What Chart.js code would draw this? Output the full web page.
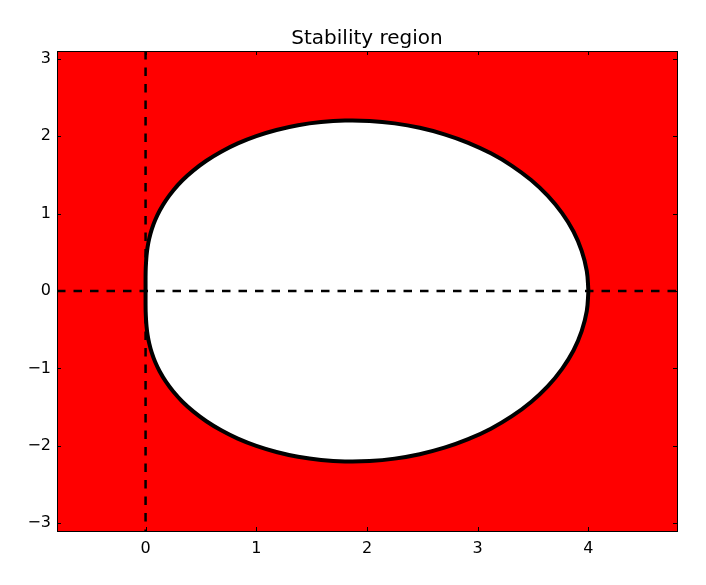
<!DOCTYPE html>
<html>
<head>
<meta charset="utf-8">
<script src="https://cdn.jsdelivr.net/npm/chart.js@4.4.1/dist/chart.umd.min.js"></script>
<style>
  html, body { margin: 0; padding: 0; background: #fff; }
  #wrap { width: 706px; height: 585px; }
</style>
</head>
<body>
<div id="wrap"><canvas id="stability" width="706" height="585"></canvas></div>
<script>
// Boundary of the stability region (upper and lower halves)
const boundaryX = [0, 0, 0, 0.001, 0.004, 0.009, 0.018, 0.033, 0.055, 0.086, 0.128, 0.182,
    0.25, 0.333, 0.433, 0.549, 0.683, 0.833, 1.0, 1.182, 1.377, 1.585, 1.801, 2.024,
    2.25, 2.476, 2.699, 2.914, 3.119, 3.309, 3.482, 3.634, 3.762, 3.865, 3.939, 3.985, 4.0];
const upperY = [0, 0.087, 0.176, 0.268, 0.363, 0.462, 0.567, 0.677, 0.793, 0.914, 1.04, 1.168,
    1.299, 1.43, 1.558, 1.682, 1.799, 1.906, 2.0, 2.079, 2.141, 2.182, 2.201, 2.196,
    2.165, 2.108, 2.024, 1.914, 1.778, 1.617, 1.433, 1.228, 1.005, 0.768, 0.518, 0.261, 0];
const lowerY = [0, -0.087, -0.176, -0.268, -0.363, -0.462, -0.567, -0.677, -0.793, -0.914, -1.04, -1.168,
    -1.299, -1.43, -1.558, -1.682, -1.799, -1.906, -2.0, -2.079, -2.141, -2.182, -2.201, -2.196,
    -2.165, -2.108, -2.024, -1.914, -1.778, -1.617, -1.433, -1.228, -1.005, -0.768, -0.518, -0.261, 0];

const xRange = [-0.8, 4.8];
const yRange = [-3.1, 3.1];
const xTicks = [0, 1, 2, 3, 4];
const yTicks = [-3, -2, -1, 0, 1, 2, 3];

const FONT = "'DejaVu Sans', sans-serif";

function points(xs, ys) {
    return xs.map((x, i) => ({ x: x, y: ys[i] }));
}

// red background over the plot area
const backgroundPlugin = {
    id: 'redBackground',
    beforeDatasetsDraw(chart) {
        const a = chart.chartArea;
        const ctx = chart.ctx;
        ctx.save();
        ctx.fillStyle = '#ff0000';
        ctx.fillRect(a.left, a.top, a.right - a.left, a.bottom - a.top);
        ctx.restore();
    }
};

// frame plus inward ticks on all four sides
const framePlugin = {
    id: 'frameTicks',
    afterDatasetsDraw(chart) {
        const a = chart.chartArea;
        const ctx = chart.ctx;
        const xs = chart.scales.x;
        const ys = chart.scales.y;
        const len = 4;
        ctx.save();
        ctx.strokeStyle = '#000';
        ctx.lineWidth = 1;
        ctx.beginPath();
        xs.ticks.forEach(t => {
            const px = Math.round(xs.getPixelForValue(t.value)) + 0.5;
            ctx.moveTo(px, a.bottom); ctx.lineTo(px, a.bottom - len);
            ctx.moveTo(px, a.top); ctx.lineTo(px, a.top + len);
        });
        ys.ticks.forEach(t => {
            const py = Math.round(ys.getPixelForValue(t.value)) + 0.5;
            ctx.moveTo(a.left, py); ctx.lineTo(a.left + len, py);
            ctx.moveTo(a.right, py); ctx.lineTo(a.right - len, py);
        });
        ctx.stroke();
        ctx.strokeRect(Math.round(a.left) + 0.5, Math.round(a.top) + 0.5,
            Math.round(a.right - a.left), Math.round(a.bottom - a.top));
        ctx.restore();
    }
};

const dashed = {
    borderColor: '#000',
    borderWidth: 2.5,
    borderDash: [8.5, 8],
    pointRadius: 0,
    fill: false
};

const curve = {
    borderColor: '#000',
    borderWidth: 4,
    pointRadius: 0,
    tension: 0.4,
    fill: { target: 'origin', above: '#ffffff', below: '#ffffff' },
    backgroundColor: '#ffffff'
};

new Chart(document.getElementById('stability'), {
    type: 'line',
    data: {
        datasets: [
            { ...dashed, label: 'real axis', data: points(xRange, [0, 0]), order: 0 },
            { ...dashed, label: 'imag axis', data: points([0, 0], yRange.slice().reverse()), order: 1 },
            { ...curve, label: 'upper', data: points(boundaryX, upperY), order: 2 },
            { ...curve, label: 'lower', data: points(boundaryX, lowerY), order: 3 }
        ]
    },
    options: {
        responsive: false,
        animation: false,
        layout: { padding: { left: 0, right: 29, top: 0, bottom: 0 } },
        plugins: {
            legend: { display: false },
            tooltip: { enabled: false },
            title: {
                display: true,
                fullSize: false,
                text: 'Stability region',
                color: '#000',
                font: { family: FONT, size: 20, weight: 'normal' },
                padding: { top: 27, bottom: 0 }
            }
        },
        scales: {
            x: {
                type: 'linear',
                min: xRange[0],
                max: xRange[1],
                grid: { display: false, drawTicks: false },
                border: { display: false },
                afterBuildTicks: s => { s.ticks = xTicks.map(v => ({ value: v })); },
                afterFit: s => { s.height = 54; },
                ticks: {
                    color: '#000',
                    padding: 8,
                    maxRotation: 0,
                    font: { family: FONT, size: 16 },
                    callback: v => String(v).replace('-', '\u2212')
                }
            },
            y: {
                type: 'linear',
                min: yRange[0],
                max: yRange[1],
                grid: { display: false, drawTicks: false },
                border: { display: false },
                afterBuildTicks: s => { s.ticks = yTicks.map(v => ({ value: v })); },
                afterFit: s => { s.width = 57; },
                ticks: {
                    color: '#000',
                    padding: 6,
                    font: { family: FONT, size: 16 },
                    callback: v => String(v).replace('-', '\u2212')
                }
            }
        }
    },
    plugins: [backgroundPlugin, framePlugin]
});
</script>
</body>
</html>
